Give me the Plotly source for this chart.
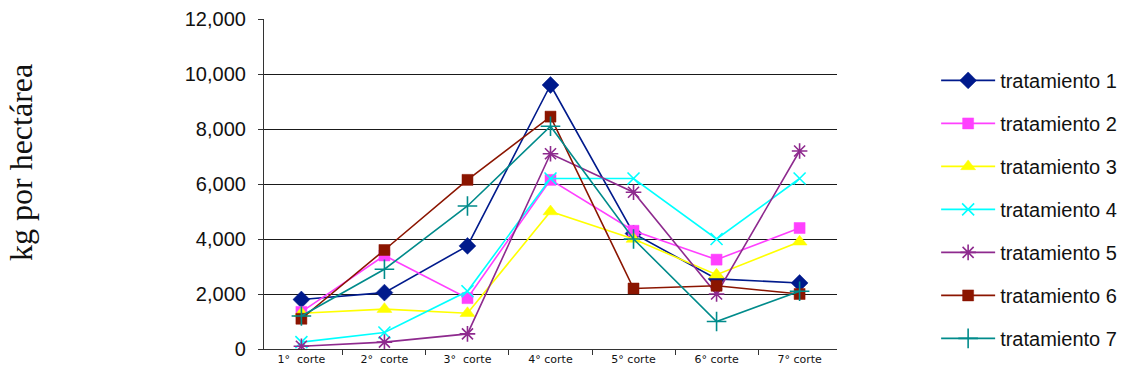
import plotly.graph_objects as go

# Harvest cuts (categories) and yield per treatment, kg/ha
cortes = ["1°  corte", "2°  corte", "3°  corte", "4° corte", "5° corte", "6° corte", "7° corte"]

tratamiento_1 = [1800, 2050, 3750, 9600, 4200, 2550, 2400]
tratamiento_2 = [1350, 3400, 1850, 6150, 4300, 3250, 4400]
tratamiento_3 = [1300, 1450, 1300, 5000, 4000, 2700, 3900]
tratamiento_4 = [250, 600, 2100, 6200, 6200, 4000, 6200]
tratamiento_5 = [100, 250, 550, 7100, 5700, 2000, 7200]
tratamiento_6 = [1100, 3600, 6150, 8450, 2200, 2300, 2000]
tratamiento_7 = [1200, 2900, 5200, 8100, 4000, 1000, 2100]

series = [
    ("tratamiento 1", tratamiento_1, "#001a8c", "diamond", 13),
    ("tratamiento 2", tratamiento_2, "#ff40ff", "square", 11),
    ("tratamiento 3", tratamiento_3, "#ffff00", "triangle-up", 13),
    ("tratamiento 4", tratamiento_4, "#00ffff", "x-thin", 12),
    ("tratamiento 5", tratamiento_5, "#8e2a8e", "asterisk", 13),
    ("tratamiento 6", tratamiento_6, "#8b1500", "square", 11),
    ("tratamiento 7", tratamiento_7, "#008b8b", "cross-thin", 14),
]

fig = go.Figure()
for name, values, color, symbol, size in series:
    thin = symbol.endswith("thin") or symbol == "asterisk"
    fig.add_trace(go.Scatter(
        x=cortes, y=values, name=name, mode="lines+markers",
        legendgroup=name,
        line=dict(color=color, width=1.6),
        marker=dict(symbol=symbol, size=size, color=color,
                    line=dict(color=color, width=1.6 if thin else 0.5)),
    ))

fig.update_layout(
    width=1123, height=381,
    margin=dict(l=264, r=286, t=19, b=32, autoexpand=False),
    paper_bgcolor="white", plot_bgcolor="white",
    font=dict(family="Liberation Sans, Arial, sans-serif", color="#111"),
    showlegend=True,
    legend=dict(
        x=1.173, y=0.873, xanchor="left", yanchor="top",
        traceorder="grouped", tracegroupgap=14,
        itemwidth=54, maxheight=400,
        font=dict(family="Liberation Sans, Arial, sans-serif", size=20, color="#111"),
        bgcolor="rgba(0,0,0,0)",
    ),
)

fig.update_xaxes(
    type="category", tickson="boundaries",
    showline=True, linecolor="#333", linewidth=1.2,
    ticks="outside", ticklen=5, tickcolor="#333",
    showgrid=False,
    tickfont=dict(family="DejaVu Sans, sans-serif", size=11, color="#111"),
)

fig.update_yaxes(
    range=[0, 12000], tickvals=[0, 2000, 4000, 6000, 8000, 10000, 12000],
    tickformat=",d",
    showline=True, linecolor="#333", linewidth=1.2,
    ticks="outside", ticklen=5, tickcolor="#333",
    showgrid=True, gridcolor="#1a1a1a", gridwidth=1.3,
    zeroline=False,
    tickfont=dict(size=20, color="#111"),
    ticklabelstandoff=8,
)

fig.add_annotation(
    text="kg por hectárea", textangle=-90,
    xref="paper", yref="paper",
    x=(21 - 264) / 573, y=(349 - 163) / 330,
    xanchor="center", yanchor="middle", showarrow=False,
    font=dict(family="Liberation Serif, Times New Roman, serif", size=32, color="#111"),
)

fig.write_html("out.html")
